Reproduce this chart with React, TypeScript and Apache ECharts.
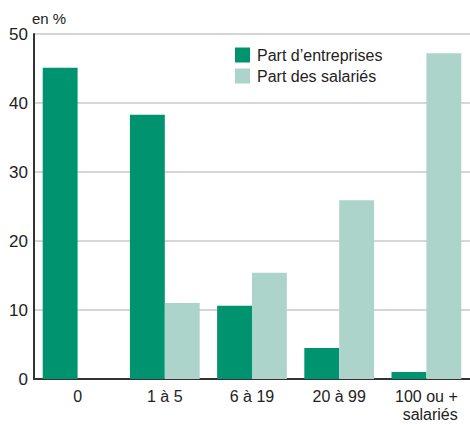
import React, { useEffect, useRef } from "react";
import * as echarts from "echarts";

const categories = ["0", "1 à 5", "6 à 19", "20 à 99", "100 ou +\nsalariés"];
const entreprises = [45.1, 38.3, 10.6, 4.5, 1.0];
const salaries = [0, 11.0, 15.4, 25.9, 47.2];
const seriesNames = ["Part d’entreprises", "Part des salariés"];
const FONT = "'Liberation Sans Narrow', 'Liberation Sans', Arial, sans-serif";

export default function App() {
  const ref = useRef<HTMLDivElement>(null);
  useEffect(() => {
    const chart = echarts.init(ref.current!, undefined, { renderer: "svg" });
    chart.setOption({
      animation: false,
      backgroundColor: "#ffffff",
      textStyle: { fontFamily: FONT },
      grid: { left: 34, right: 0, top: 34, bottom: 46, containLabel: false },
      legend: {
        orient: "vertical",
        left: 235,
        top: 47,
        padding: 0,
        itemWidth: 15,
        itemHeight: 15,
        itemGap: 5,
        icon: "rect",
        textStyle: { fontFamily: FONT, fontSize: 16, color: "#222", padding: [0, 0, 0, 2] },
        data: seriesNames,
      },
      graphic: [
        {
          type: "text",
          left: 32,
          top: 11,
          style: { text: "en %", font: `15px ${FONT}`, fill: "#222" },
        },
      ],
      xAxis: {
        type: "category",
        data: categories,
        axisLine: { lineStyle: { color: "#333", width: 2 } },
        axisTick: { show: false },
        axisLabel: {
          color: "#222",
          fontSize: 16,
          fontFamily: FONT,
          margin: 8,
          lineHeight: 18,
          interval: 0,
          formatter: (v: string) => {
            const parts = v.split("\n");
            if (parts.length === 1) return `{a|${v}}`;
            return `{l|${parts[0]}}\n{r|${parts[1]}}`;
          },
          rich: {
            a: { fontSize: 16, fontFamily: FONT, color: "#222" },
            l: { fontSize: 16, fontFamily: FONT, color: "#222", align: "left" },
            r: { fontSize: 16, fontFamily: FONT, color: "#222", align: "right" },
          },
        },
      },
      yAxis: {
        type: "value",
        min: 0,
        max: 50,
        interval: 10,
        axisLine: { show: true, lineStyle: { color: "#333", width: 2 } },
        axisTick: { show: false },
        axisLabel: { color: "#222", fontSize: 17, fontFamily: FONT, margin: 6 },
        splitLine: { lineStyle: { color: "#c8c8c8", width: 1.5 } },
      },
      series: [
        {
          name: seriesNames[0],
          type: "bar",
          data: entreprises,
          barWidth: "40%",
          barGap: "0%",
          itemStyle: { color: "#00936f" },
        },
        {
          name: seriesNames[1],
          type: "bar",
          data: salaries,
          barWidth: "40%",
          barGap: "0%",
          itemStyle: { color: "#acd4ca" },
        },
      ],
    });
    return () => chart.dispose();
  }, []);
  return (
    <div
      ref={ref}
      style={{ position: "fixed", left: 0, top: 0, width: 470, height: 425 }}
    />
  );
}
